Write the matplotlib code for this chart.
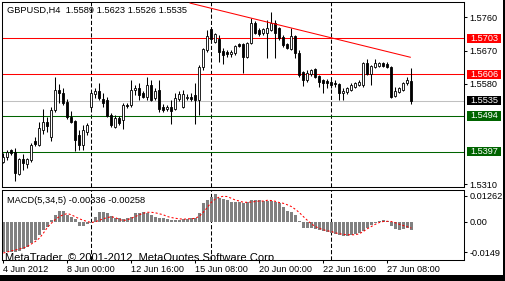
import matplotlib
matplotlib.use("Agg")
import matplotlib.pyplot as plt
import matplotlib.transforms as mtransforms
from matplotlib.patches import Rectangle
import numpy as np

plt.rcParams['font.family'] = ['Liberation Sans', 'DejaVu Sans']

# ---------------- data ----------------
open_ = [1.5369, 1.5383, 1.5402, 1.5396, 1.5337, 1.5378, 1.5364, 1.5375, 1.5426, 1.5415,
         1.5456, 1.5477, 1.5437, 1.5510, 1.5564, 1.5556, 1.5531, 1.5491, 1.5480, 1.5442,
         1.5415, 1.5450, 1.5518, 1.5553, 1.5561, 1.5540, 1.5537, 1.5496, 1.5464, 1.5488,
         1.5483, 1.5523, 1.5523, 1.5564, 1.5569, 1.5556, 1.5545, 1.5577, 1.5542, 1.5564,
         1.5518, 1.5512, 1.5518, 1.5512, 1.5540, 1.5518, 1.5542, 1.5545, 1.5550, 1.5537,
         1.5626, 1.5672, 1.5729, 1.5693, 1.5702, 1.5669, 1.5666, 1.5661, 1.5664, 1.5688,
         1.5688, 1.5653, 1.5691, 1.5745, 1.5726, 1.5718, 1.5718, 1.5726, 1.5745, 1.5731,
         1.5707, 1.5688, 1.5675, 1.5710, 1.5664, 1.5612, 1.5591, 1.5607, 1.5621, 1.5602,
         1.5591, 1.5588, 1.5585, 1.5583, 1.5580, 1.5556, 1.5558, 1.5564, 1.5572, 1.5577,
         1.5577, 1.5637, 1.5607, 1.5626, 1.5629, 1.5637, 1.5634, 1.5626, 1.5548, 1.5558,
         1.5564, 1.5583, 1.5589]
high = [1.5394, 1.5402, 1.5405, 1.5407, 1.5380, 1.5391, 1.5380, 1.5421, 1.5437, 1.5477,
        1.5512, 1.5491, 1.5518, 1.5599, 1.5580, 1.5569, 1.5540, 1.5507, 1.5483, 1.5456,
        1.5469, 1.5475, 1.5561, 1.5569, 1.5583, 1.5556, 1.5545, 1.5502, 1.5496, 1.5494,
        1.5529, 1.5529, 1.5591, 1.5577, 1.5583, 1.5561, 1.5599, 1.5591, 1.5569, 1.5591,
        1.5526, 1.5523, 1.5537, 1.5556, 1.5561, 1.5564, 1.5553, 1.5556, 1.5583, 1.5631,
        1.5677, 1.5726, 1.5734, 1.5718, 1.5712, 1.5677, 1.5672, 1.5672, 1.5685, 1.5691,
        1.5691, 1.5693, 1.5758, 1.5750, 1.5731, 1.5731, 1.5753, 1.5774, 1.5753, 1.5734,
        1.5712, 1.5691, 1.5731, 1.5712, 1.5672, 1.5615, 1.5618, 1.5621, 1.5623, 1.5604,
        1.5594, 1.5594, 1.5591, 1.5591, 1.5583, 1.5569, 1.5572, 1.5583, 1.5585, 1.5591,
        1.5639, 1.5648, 1.5631, 1.5648, 1.5639, 1.5639, 1.5639, 1.5629, 1.5572, 1.5572,
        1.5585, 1.5599, 1.5623]
low = [1.5367, 1.5375, 1.5388, 1.5318, 1.5334, 1.5348, 1.5353, 1.5369, 1.5413, 1.5413,
       1.5445, 1.5450, 1.5426, 1.5504, 1.5529, 1.5523, 1.5486, 1.5475, 1.5399, 1.5402,
       1.5402, 1.5442, 1.5510, 1.5542, 1.5537, 1.5518, 1.5491, 1.5464, 1.5461, 1.5469,
       1.5459, 1.5515, 1.5518, 1.5550, 1.5537, 1.5542, 1.5537, 1.5534, 1.5537, 1.5504,
       1.5504, 1.5507, 1.5472, 1.5510, 1.5534, 1.5515, 1.5537, 1.5534, 1.5472, 1.5496,
       1.5618, 1.5666, 1.5691, 1.5691, 1.5639, 1.5634, 1.5653, 1.5653, 1.5658, 1.5680,
       1.5610, 1.5650, 1.5688, 1.5715, 1.5710, 1.5712, 1.5650, 1.5723, 1.5650, 1.5699,
       1.5680, 1.5675, 1.5672, 1.5650, 1.5599, 1.5575, 1.5585, 1.5602, 1.5596, 1.5572,
       1.5556, 1.5569, 1.5569, 1.5572, 1.5537, 1.5537, 1.5553, 1.5561, 1.5569, 1.5575,
       1.5572, 1.5604, 1.5577, 1.5623, 1.5626, 1.5626, 1.5623, 1.5542, 1.5545, 1.5556,
       1.5561, 1.5577, 1.5526]
close = [1.5383, 1.5396, 1.5394, 1.5340, 1.5378, 1.5367, 1.5378, 1.5415, 1.5418, 1.5461,
         1.5477, 1.5467, 1.5510, 1.5564, 1.5556, 1.5529, 1.5491, 1.5477, 1.5429, 1.5415,
         1.5456, 1.5469, 1.5556, 1.5561, 1.5542, 1.5529, 1.5494, 1.5469, 1.5488, 1.5475,
         1.5523, 1.5521, 1.5564, 1.5569, 1.5550, 1.5545, 1.5577, 1.5537, 1.5561, 1.5512,
         1.5510, 1.5518, 1.5507, 1.5542, 1.5553, 1.5553, 1.5545, 1.5540, 1.5537, 1.5626,
         1.5675, 1.5710, 1.5702, 1.5715, 1.5666, 1.5658, 1.5661, 1.5666, 1.5683, 1.5683,
         1.5653, 1.5691, 1.5745, 1.5718, 1.5715, 1.5729, 1.5731, 1.5745, 1.5718, 1.5704,
         1.5685, 1.5677, 1.5710, 1.5664, 1.5604, 1.5591, 1.5610, 1.5618, 1.5599, 1.5585,
         1.5583, 1.5583, 1.5577, 1.5580, 1.5556, 1.5561, 1.5569, 1.5577, 1.5583, 1.5585,
         1.5637, 1.5607, 1.5629, 1.5637, 1.5637, 1.5629, 1.5626, 1.5545, 1.5561, 1.5569,
         1.5583, 1.5591, 1.5535]

macd_main = [-0.0120, -0.0120, -0.0122, -0.0120, -0.0117, -0.0109, -0.0100, -0.0086, -0.0073, -0.0053,
             -0.0033, -0.0020, 0.0007, 0.0027, 0.0043, 0.0043, 0.0027, 0.0020, 0.0011, -0.0016,
             -0.0016, -0.0011, -0.0004, 0.0020, 0.0037, 0.0037, 0.0033, 0.0024, 0.0013, 0.0013,
             0.0011, 0.0016, 0.0020, 0.0033, 0.0033, 0.0037, 0.0033, 0.0027, 0.0020, 0.0016,
             0.0013, 0.0011, 0.0007, 0.0007, 0.0007, 0.0011, 0.0011, 0.0013, 0.0016, 0.0033,
             0.0073, 0.0086, 0.0100, 0.0109, 0.0096, 0.0090, 0.0086, 0.0080, 0.0080, 0.0077,
             0.0073, 0.0080, 0.0085, 0.0085, 0.0085, 0.0082, 0.0082, 0.0082, 0.0080, 0.0073,
             0.0060, 0.0043, 0.0040, 0.0027, 0.0003, -0.0024, -0.0027, -0.0027, -0.0029, -0.0033,
             -0.0037, -0.0043, -0.0047, -0.0051, -0.0053, -0.0056, -0.0057, -0.0053, -0.0051, -0.0047,
             -0.0037, -0.0027, -0.0013, -0.0004, 0.0004, 0.0007, 0.0004, -0.0016, -0.0029, -0.0033,
             -0.0029, -0.0027, -0.00336]
macd_signal = [-0.0126, -0.0122, -0.0117, -0.0114, -0.0110, -0.0106, -0.0100, -0.0090, -0.0080, -0.0067,
               -0.0047, -0.0024, -0.0007, 0.0008, 0.0020, 0.0027, 0.0032, 0.0027, 0.0019, 0.0011,
               0.0005, 0.0000, -0.0004, -0.0001, 0.0005, 0.0011, 0.0016, 0.0019, 0.0016, 0.0008,
               0.0004, 0.0007, 0.0013, 0.0020, 0.0027, 0.0033, 0.0037, 0.0037, 0.0035, 0.0031,
               0.0027, 0.0020, 0.0016, 0.0013, 0.0011, 0.0009, 0.0011, 0.0011, 0.0013, 0.0021,
               0.0037, 0.0056, 0.0077, 0.0090, 0.0098, 0.0101, 0.0100, 0.0093, 0.0086, 0.0082,
               0.0077, 0.0077, 0.0078, 0.0080, 0.0082, 0.0082, 0.0085, 0.0084, 0.0081, 0.0076,
               0.0073, 0.0067, 0.0060, 0.0049, 0.0036, 0.0020, 0.0005, -0.0009, -0.0020, -0.0027,
               -0.0033, -0.0037, -0.0040, -0.0045, -0.0049, -0.0051, -0.0053, -0.0053, -0.0053, -0.0049,
               -0.0040, -0.0029, -0.0020, -0.0011, -0.0004, 0.0000, 0.0001, 0.0000, -0.0005, -0.0011,
               -0.0016, -0.0021, -0.00258]

time_label_bars = [0, 16, 32, 48, 64, 80, 96]
time_labels = ['4 Jun 2012', '8 Jun 00:00', '12 Jun 16:00', '15 Jun 08:00',
               '20 Jun 00:00', '22 Jun 16:00', '27 Jun 08:00']
separator_bars = [22, 52, 82]

price_ticks = [1.5760, 1.5670, 1.5580, 1.5310]
resistance = [1.5703, 1.5606]
support = [1.5494, 1.5397]
bid = 1.5535
trend_x = [46.7, 101.75]
trend_y = [1.5798, 1.5652]

macd_tick_pos = [0.0104, 0.0, -0.0122]
macd_tick_labels = ['0.01262', '0.00', '-0.0149']

title_main = 'GBPUSD,H4  1.5589 1.5623 1.5526 1.5535'
title_macd = 'MACD(5,34,5) -0.00336 -0.00258'
copyright_txt = 'MetaTrader, \u00a9 2001-2012, MetaQuotes Software Corp.'

# ---------------- layout ----------------
W, H = 506, 281
fig = plt.figure(figsize=(W / 100, H / 100), dpi=100)
fig.patch.set_facecolor('white')


def fr(x0, y0, x1, y1):
    return [x0 / W, 1 - y1 / H, (x1 - x0) / W, (y1 - y0) / H]


ax = fig.add_axes(fr(2, 2, 464, 187))
ax2 = fig.add_axes(fr(2, 190, 464, 260))

n = len(close)
x = np.arange(n)
xlim = (-0.325, 115.175)
FS = 6.6

for a in (ax, ax2):
    a.set_xlim(*xlim)
    a.set_facecolor('white')
    for s in a.spines.values():
        s.set_linewidth(0.75)
        s.set_color('black')
    for sb in separator_bars:
        a.axvline(sb, color='black', lw=0.75, ls=(0, (4, 2)), zorder=1)

# ---------------- main panel ----------------
ax.set_ylim(1.5302, 1.5801)

for p in resistance:
    ax.axhline(p, color='#ff0000', lw=0.75, zorder=1.5)
for p in support:
    ax.axhline(p, color='#006400', lw=0.75, zorder=1.5)
ax.axhline(bid, color='#c0c0c0', lw=0.75, zorder=1.5)

o = np.array(open_); h = np.array(high); l = np.array(low); c = np.array(close)
ax.vlines(x, l, h, color='black', lw=0.75, zorder=2)
up = c >= o
body_bottom = np.minimum(o, c)
body_h = np.abs(c - o)
ax.bar(x[up], body_h[up], bottom=body_bottom[up], width=0.55,
       color='white', edgecolor='black', linewidth=0.6, zorder=3)
ax.bar(x[~up], body_h[~up], bottom=body_bottom[~up], width=0.55,
       color='black', edgecolor='black', linewidth=0.6, zorder=3)

ax.plot(trend_x, trend_y, color='#ff0000', lw=0.75, zorder=4)

ax.set_xticks([])
ax.yaxis.tick_right()
ax.set_yticks(price_ticks)
ax.set_yticklabels([f'{p:.4f}' for p in price_ticks])
ax.tick_params(axis='y', length=2.2, width=0.75, pad=2, labelsize=FS, direction='out')

blend = mtransforms.blended_transform_factory(ax.transAxes, ax.transData)
box_x0 = (467 - 2) / 462
box_w = 34.5 / 462
txt_x = (470 - 2) / 462
half_h = 0.00127
for p, col in [(resistance[0], '#ff0000'), (resistance[1], '#ff0000'),
               (bid, '#000000'), (support[0], '#006400'), (support[1], '#006400')]:
    ax.add_patch(Rectangle((box_x0, p - half_h), box_w, 2 * half_h, transform=blend,
                           facecolor=col, edgecolor='none', clip_on=False, zorder=10))
    ax.text(txt_x, p, f'{p:.4f}', transform=blend, color='white', fontsize=FS,
            va='center', ha='left', clip_on=False, zorder=11)

fig.text(7 / W, 1 - 10.5 / H, title_main, fontsize=6.7, va='center', ha='left')

# ---------------- MACD panel ----------------
ax2.set_ylim(-0.0154, 0.01262)
ax2.bar(x, macd_main, width=0.72, color='#808080', edgecolor='none', zorder=2)
ax2.plot(x, macd_signal, color='#ff0000', lw=0.75, ls=(0, (2, 2)), zorder=3)

ax2.yaxis.tick_right()
ax2.set_yticks(macd_tick_pos)
ax2.set_yticklabels(macd_tick_labels)
ax2.tick_params(axis='y', length=2.2, width=0.75, pad=2, labelsize=FS, direction='out')

ax2.set_xticks(time_label_bars)
ax2.set_xticklabels(time_labels)
ax2.tick_params(axis='x', length=2.2, width=0.75, pad=1.5, labelsize=FS, direction='out')
for lbl in ax2.get_xticklabels():
    lbl.set_ha('left')

fig.text(7 / W, 1 - 200.5 / H, title_macd, fontsize=6.7, va='center', ha='left')
ax2.text((4.7 - 2) / 462, -0.012, copyright_txt, transform=ax2.transAxes,
         fontsize=8.0, va='baseline', ha='left', clip_on=True, zorder=5)

# ---------------- outer frame ----------------
fig.patches.append(Rectangle((503.5 / W, 0), 2.5 / W, 1, transform=fig.transFigure,
                             facecolor='black', edgecolor='none'))
fig.patches.append(Rectangle((0, 0), 1, 6 / H, transform=fig.transFigure,
                             facecolor='black', edgecolor='none'))

fig.savefig('out.png', dpi=100)
